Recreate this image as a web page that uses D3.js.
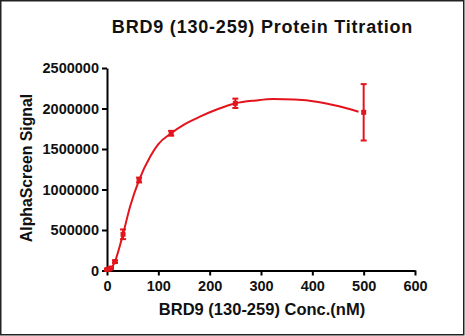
<!DOCTYPE html>
<html><head><meta charset="utf-8">
<script src="https://cdn.jsdelivr.net/npm/d3@7"></script>
<style>body{margin:0;background:#fff}svg{display:block}</style>
</head><body>
<svg id="c" width="465" height="336"></svg>
<script>
const conc   = [0, 3.9, 7.8, 15.6, 31.25, 62.5, 125, 250, 500];
const signal = [12000, 18000, 30000, 110000, 447000, 1117000, 1694000, 2064000, 1953000];
const errors = [8000, 8000, 10000, 15000, 60000, 30000, 30000, 58000, 348000];
const fitX = [0, 5, 10, 15.6, 23, 31.25, 45, 62.5, 84, 100, 125, 150, 181, 215, 250, 290, 324, 365, 408, 450, 490];
const fitY = [5000, 15000, 45000, 110000, 260000, 450000, 790000, 1117000, 1405000, 1560000, 1694000, 1800000, 1899000, 1990000, 2064000, 2100000, 2117000, 2110000, 2084000, 2030000, 1960000];
const xTicks = [0, 100, 200, 300, 400, 500, 600];
const yTicks = [0, 500000, 1000000, 1500000, 2000000, 2500000];

const svg = d3.select("#c");
const red = "#e3141c";
const font = "'Liberation Sans', Arial, sans-serif";

svg.append("rect").attr("x", 0.75).attr("y", 0.75).attr("width", 463).attr("height", 334)
  .attr("fill", "#fff").attr("stroke", "#222").attr("stroke-width", 1.5);

const x = d3.scaleLinear().domain([0, 600]).range([107, 415]);
const y = d3.scaleLinear().domain([0, 2500000]).range([270.5, 68]);

const xAxis = svg.append("g").attr("transform", "translate(0,270.5)")
  .call(d3.axisBottom(x).tickValues(xTicks).tickSize(5).tickPadding(5).tickSizeOuter(0));
const yAxis = svg.append("g").attr("transform", "translate(107,0)")
  .call(d3.axisLeft(y).tickValues(yTicks).tickFormat(d3.format("d")).tickSize(5).tickPadding(3).tickSizeOuter(0));
[xAxis, yAxis].forEach(g => {
  g.select(".domain").attr("stroke", "#000").attr("stroke-width", 2);
  g.selectAll(".tick line").attr("stroke", "#000").attr("stroke-width", 2);
  g.selectAll(".tick text").attr("fill", "#111").style("font-family", font)
    .style("font-weight", "bold").style("font-size", "14.5px");
});

// fitted curve
const fit = fitX.map((d, i) => [d, fitY[i]]);
svg.append("path").datum(fit)
  .attr("fill", "none").attr("stroke", red).attr("stroke-width", 2)
  .attr("d", d3.line().x(d => x(d[0])).y(d => y(d[1])).curve(d3.curveMonotoneX));

// error bars
const pts = conc.map((c, i) => ({c, s: signal[i], e: errors[i]}));
const eb = svg.append("g").attr("stroke", red).attr("stroke-width", 2);
pts.forEach(p => {
  const cx = x(p.c), y1 = y(p.s + p.e), y2 = y(p.s - p.e);
  eb.append("line").attr("x1", cx).attr("x2", cx).attr("y1", y1).attr("y2", y2);
  eb.append("line").attr("x1", cx - 3).attr("x2", cx + 3).attr("y1", y1).attr("y2", y1);
  eb.append("line").attr("x1", cx - 3).attr("x2", cx + 3).attr("y1", y2).attr("y2", y2);
});
svg.append("g").selectAll("rect").data(pts).join("rect")
  .attr("x", d => x(d.c) - 2.5).attr("y", d => y(d.s) - 2.5)
  .attr("width", 5).attr("height", 5).attr("fill", red);

// titles
svg.append("text").attr("x", 262.5).attr("y", 33).attr("text-anchor", "middle")
  .style("font-family", font).style("font-weight", "bold").style("font-size", "18px")
  .style("letter-spacing", "0.8px").attr("fill", "#111")
  .text("BRD9 (130-259) Protein Titration");
svg.append("text").attr("x", 262).attr("y", 315).attr("text-anchor", "middle")
  .style("font-family", font).style("font-weight", "bold").style("font-size", "16.5px").attr("fill", "#111")
  .text("BRD9 (130-259) Conc.(nM)");
svg.append("text").attr("transform", "translate(32,168) rotate(-90)").attr("text-anchor", "middle")
  .style("font-family", font).style("font-weight", "bold").style("font-size", "15.8px").attr("fill", "#111")
  .text("AlphaScreen Signal");
</script>
</body></html>
